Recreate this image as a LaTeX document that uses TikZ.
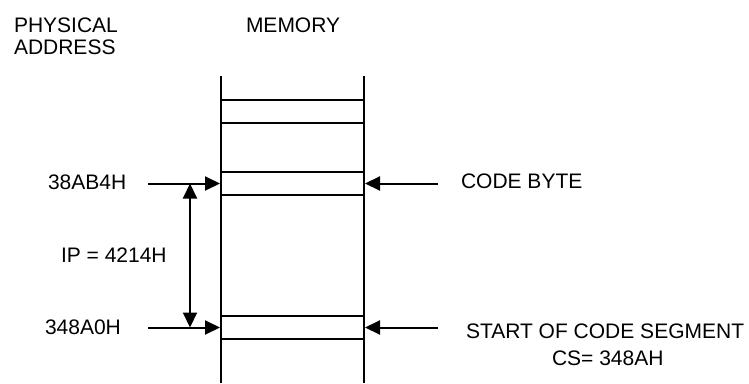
\documentclass[tikz,border=0pt]{standalone}
\usepackage{fontspec}
\setmainfont{Liberation Sans}
\usetikzlibrary{arrows.meta}
\begin{document}
\begin{tikzpicture}[x=1pt,y=-1pt,
  line width=2pt,
  lbl/.style={font=\fontsize{21}{24}\selectfont, inner sep=0pt, anchor=west},
  cell/.style={draw, minimum width=143pt, minimum height=23pt, inner sep=0pt},
  ptr/.style={-{Triangle[length=15pt,width=14pt]}},
  span/.style={{Triangle[length=15pt,width=14pt]}-{Triangle[length=15pt,width=14pt]}}]
\useasboundingbox (0,0) rectangle (749,383);

% memory column
\coordinate (tl) at (221,76);
\coordinate (bl) at (221,383);
\coordinate (tr) at (364,76);
\coordinate (br) at (364,383);
\draw (tl) -- (bl);
\draw (tr) -- (br);

% memory locations
\node[cell] (top)   at (292.5,111.5) {};
\node[cell] (byte)  at (292.5,183.5) {};
\node[cell] (start) at (292.5,327.5) {};

% headings
\node[lbl] (phys) at (13,25.5) {PHYSICAL};
\node[lbl] (addr) at (13,47.5) {ADDRESS};
\node[lbl] (mem)  at (245,25.5) {MEMORY};

% physical addresses
\node[lbl] (a1) at (47,182) {38AB4H};
\node[lbl] (a0) at (44,327) {348A0H};
\node[lbl] (ip) at (60,255) {IP = 4214H};

% right-hand labels
\node[lbl] (cbl) at (460,181.5) {CODE BYTE};
\node[lbl] (csl) at (465,331) {START OF CODE SEGMENT};
\node[lbl] (csv) at (551,358) {CS= 348AH};

% pointers
\coordinate (la1) at (148,183.5);
\coordinate (la0) at (148,327.5);
\coordinate (ra1) at (438,183.5);
\coordinate (ra0) at (438,327.5);
\draw[ptr] (la1) -- (byte.west);
\draw[ptr] (la0) -- (start.west);
\draw[ptr] (ra1) -- (byte.east);
\draw[ptr] (ra0) -- (start.east);

% offset span
\coordinate (s1) at (190,183.5);
\coordinate (s0) at (190,327.5);
\draw[span] (s1) -- (s0);
\end{tikzpicture}
\end{document}
